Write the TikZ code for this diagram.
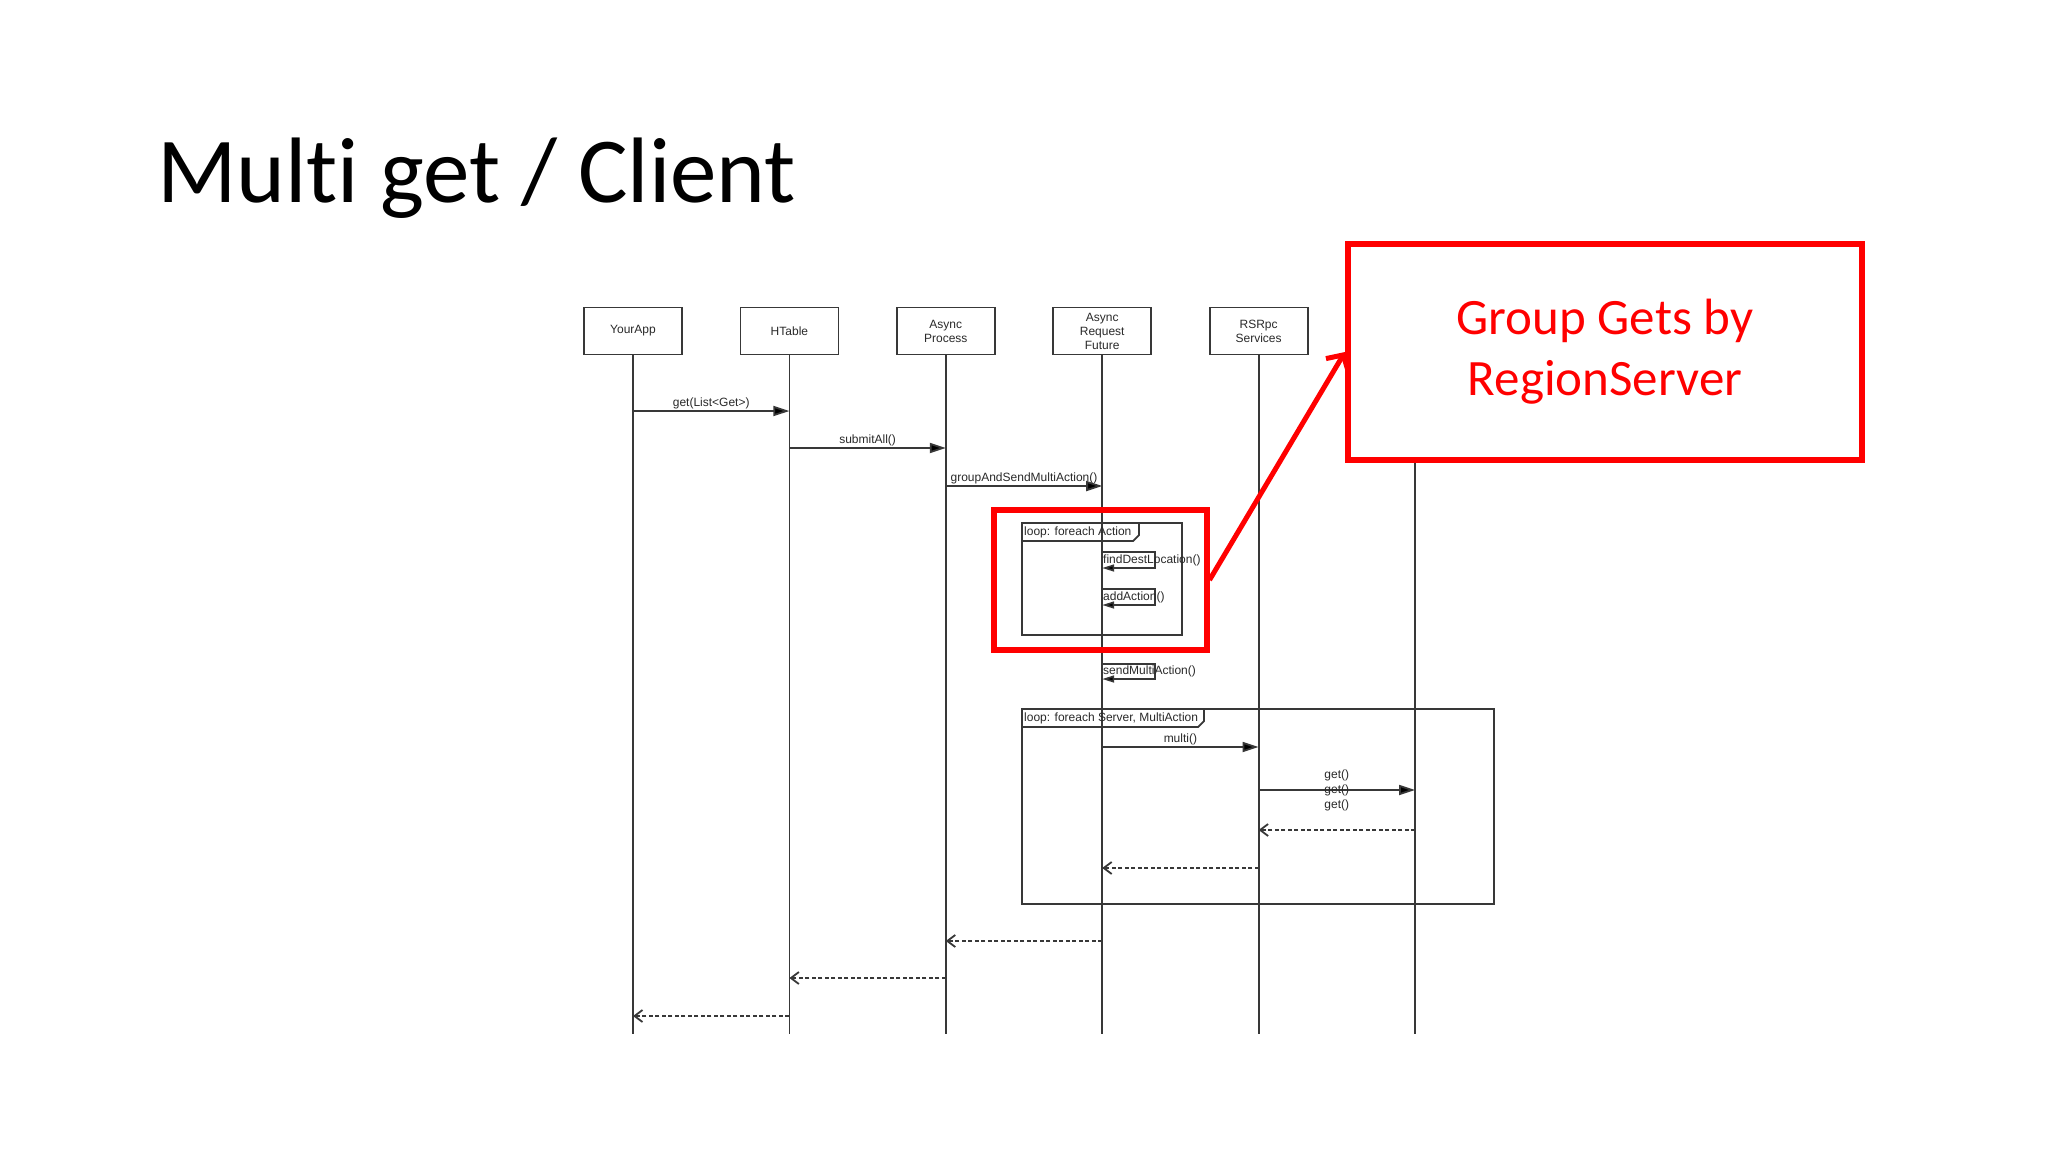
\documentclass[tikz,border=0pt]{standalone}
\usepackage{fontspec}
\setmainfont{Carlito}[Ligatures=NoCommon]
\newfontfamily\umlfont{Liberation Sans}
\usetikzlibrary{arrows.meta,positioning}
\definecolor{mgink}{HTML}{2A2A2A}
\definecolor{mgline}{HTML}{383838}
\definecolor{mgred}{HTML}{FF0000}
\tikzset{
  actor/.style={draw=mgline, line width=1.8pt, fill=white, minimum width=98pt, minimum height=47pt, inner sep=0pt, align=center, text=mgink, font=\umlfont\fontsize{12}{14}\selectfont},
  life/.style={draw=mgline, line width=1.8pt},
  msg/.style={-{Triangle[length=16pt,width=10pt,fill=black]}, line width=1.8pt, draw=mgline},
  selfmsg/.style={-{Triangle[length=12pt,width=7pt,fill=black]}, line width=1.6pt, draw=mgline},
  ret/.style={-{Straight Barb[length=8pt,width=12pt]}, line width=1.8pt, draw=mgline, dash pattern=on 4pt off 2.5pt},
  lbl/.style={inner sep=1pt, text=mgink, font=\umlfont\fontsize{12}{15}\selectfont},
  loopbox/.style={draw=mgline, line width=1.8pt},
  hilite/.style={draw=mgred, line width=6pt},
  notebox/.style={draw=mgred, line width=6pt, fill=white, align=center, text=mgred, font=\fontsize{51}{61}\selectfont},
  pointer/.style={-{Straight Barb[length=12pt,width=26pt]}, draw=mgred, line width=5pt},
}
\begin{document}
\begin{tikzpicture}[x=1pt,y=-1pt]
\useasboundingbox[fill=white] (0,0) rectangle (2048,1152);
% title
\node[anchor=base west, inner sep=0pt, font=\fontsize{93}{110}\selectfont] (title) at (157,202) {Multi get / Client};
% participants
\node[actor] (ya) at (633,331) {YourApp};
\node[actor, right=56.6pt of ya] (ht) {HTable};
\node[actor, right=56.6pt of ht] (ap) {Async\\Process};
\node[actor, right=56.6pt of ap] (arf) {Async\\Request\\Future};
\node[actor, right=56.6pt of arf] (rs) {RSRpc\\Services};
\coordinate (rgn) at (1415,355);
\foreach \p in {ya,ht,ap,arf,rs}
  \draw[life] (\p.south) -- (\p.south |- 0,1034);
\draw[life] (rgn) -- (rgn |- 0,1034);
% calls
\draw[msg] (ya |- 0,411) -- node[lbl, above] {get(List<Get>)} (ht |- 0,411);
\draw[msg] (ht |- 0,448) -- node[lbl, above] {submitAll()} (ap |- 0,448);
\draw[msg] (ap |- 0,486) -- node[lbl, above] {groupAndSendMultiAction()} (arf |- 0,486);
% loop over actions
\draw[loopbox] (1022,523) rectangle (1182,635);
\draw[loopbox] (1022,541) -- (1133,541) -- (1139,535) -- (1139,523);
\node[lbl, anchor=west] (lp1) at (1023,532) {loop: foreach Action};
\draw[selfmsg] (arf |- 0,552) -- ++(53,0) |- (arf |- 0,568);
\node[lbl, anchor=west] (fdl) at (1102,560) {findDestLocation()};
\draw[selfmsg] (arf |- 0,589) -- ++(53,0) |- (arf |- 0,605);
\node[lbl, anchor=west] (ada) at (1102,597) {addAction()};
\draw[selfmsg] (arf |- 0,664) -- ++(53,0) |- (arf |- 0,679);
\node[lbl, anchor=west] (sma) at (1102,671) {sendMultiAction()};
% loop over servers
\draw[loopbox] (1022,709) rectangle (1494,904);
\draw[loopbox] (1022,727) -- (1198,727) -- (1204,721) -- (1204,709);
\node[lbl, anchor=west] (lp2) at (1023,718) {loop: foreach Server, MultiAction};
\draw[msg] (arf |- 0,747) -- node[lbl, above] {multi()} (rs |- 0,747);
\draw[msg] (rs |- 0,790) -- node[lbl, align=center] {get()\\get()\\get()} (rgn |- 0,790);
% returns
\draw[ret] (rgn |- 0,830) -- (rs |- 0,830);
\draw[ret] (rs |- 0,868) -- (arf |- 0,868);
\draw[ret] (arf |- 0,941) -- (ap |- 0,941);
\draw[ret] (ap |- 0,978) -- (ht |- 0,978);
\draw[ret] (ht |- 0,1016) -- (ya |- 0,1016);
% red call-out
\node[hilite, minimum width=213pt, minimum height=140pt] (hl) at (1100,580) {};
\node[notebox, minimum width=514pt, minimum height=216pt] (gg) at (1605,352) {Group Gets by\\RegionServer};
\draw[pointer] (hl.east) -- (gg.west);
\end{tikzpicture}
\end{document}
